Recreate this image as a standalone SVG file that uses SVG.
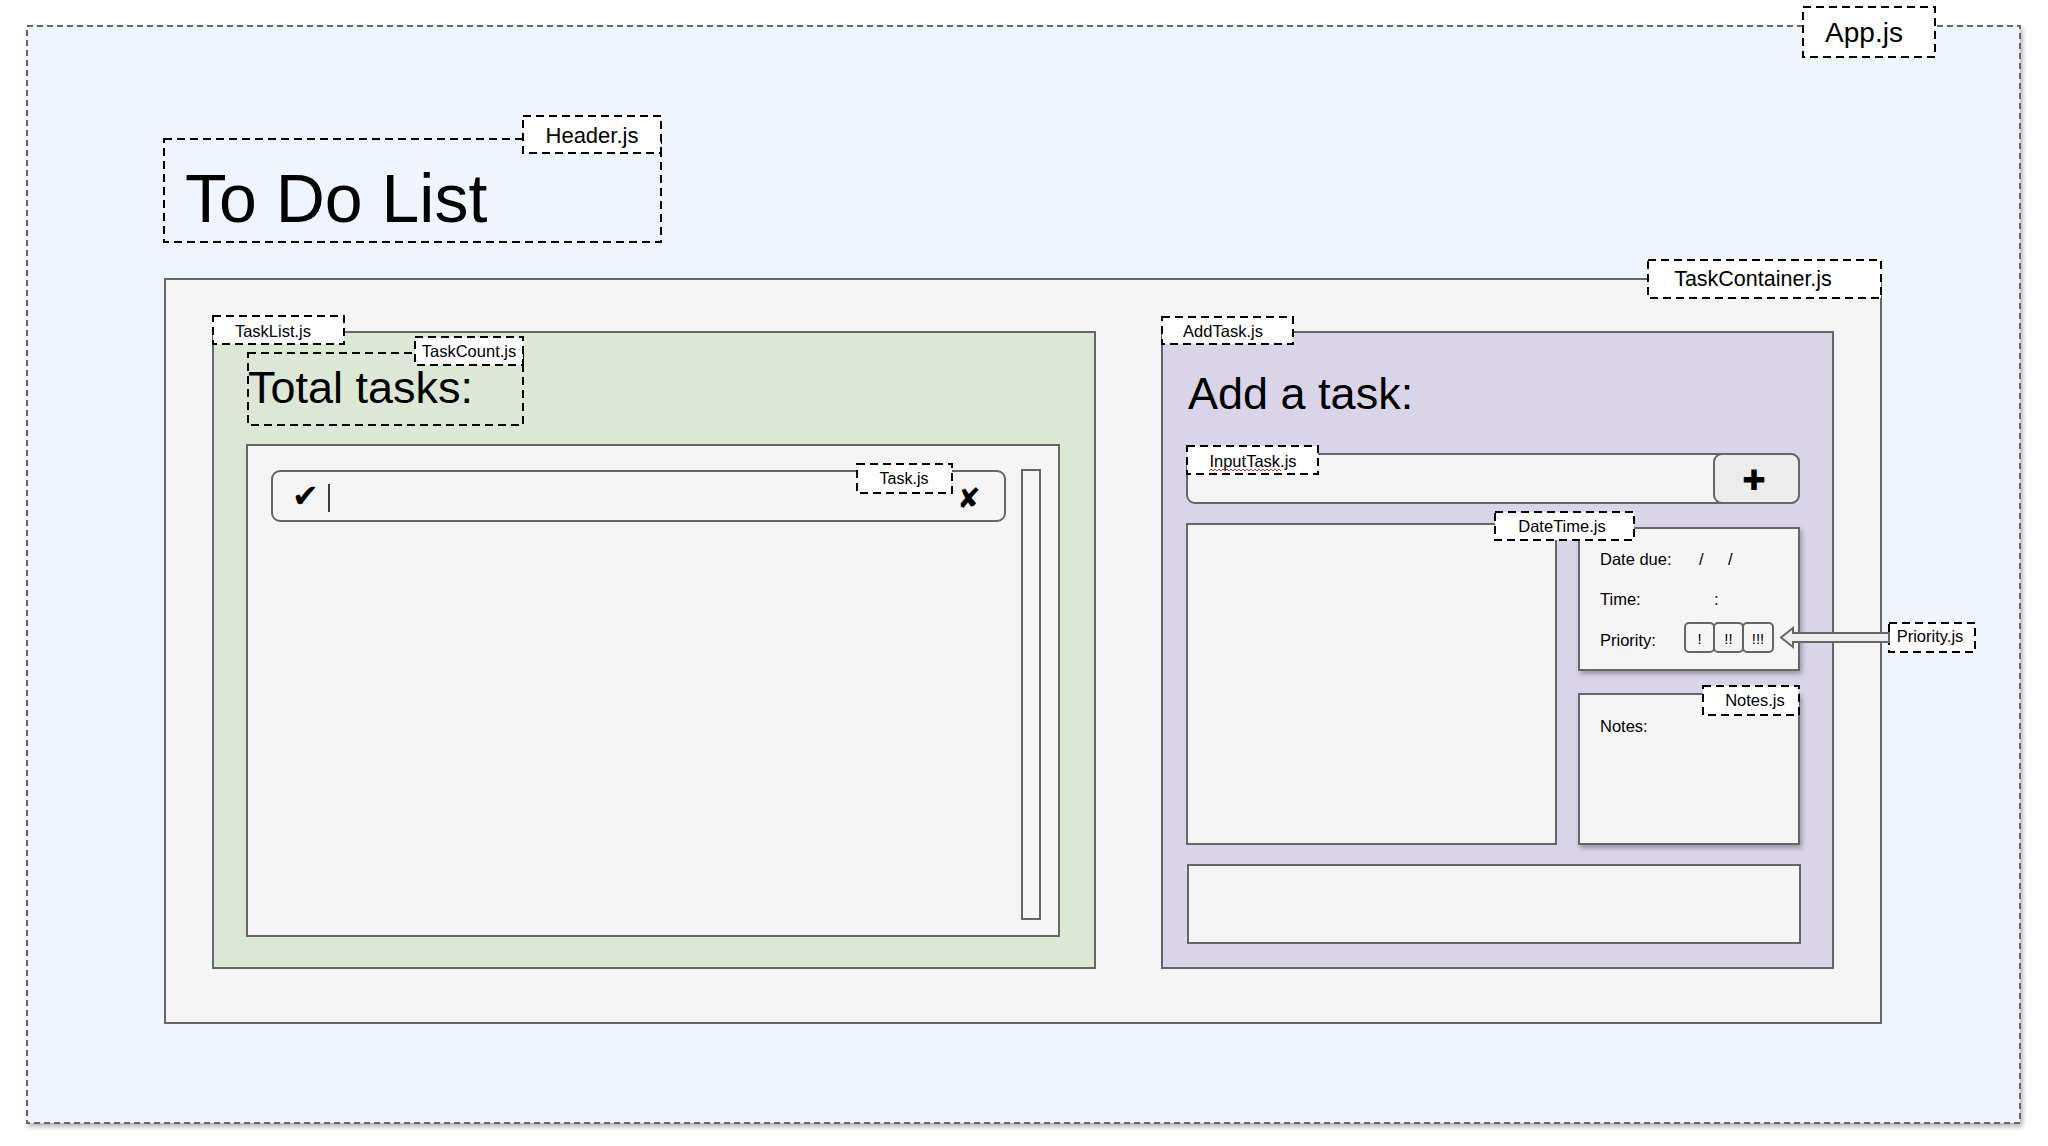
<svg xmlns="http://www.w3.org/2000/svg" width="2048" height="1146" viewBox="0 0 2048 1146">
<defs>
<style>
.lbl{fill:#ffffff;stroke:#000;stroke-width:2;stroke-dasharray:8 5}
.dash{fill:none;stroke:#000;stroke-width:2;stroke-dasharray:8 5}
.box{stroke:#666;stroke-width:2}
.t{font-family:"Liberation Sans",Arial,sans-serif;fill:#000}
.sym{font-family:"DejaVu Sans",sans-serif;fill:#000}
</style>
<filter id="sh" x="-5%" y="-5%" width="115%" height="115%">
<feDropShadow dx="2" dy="3" stdDeviation="2.5" flood-color="#000" flood-opacity="0.3"/>
</filter>
</defs>
<rect width="2048" height="1146" fill="#ffffff"/>

<g id="app">
<rect x="27" y="26" width="1993" height="1097" fill="#eff4fd" stroke="#666" stroke-width="2" stroke-dasharray="6 4" filter="url(#sh)"/>
<rect class="lbl" x="1803" y="7" width="132" height="50"/>
<text class="t" x="1864" y="42" font-size="28" text-anchor="middle">App.js</text>
</g>

<g id="header">
<rect class="dash" x="164" y="139" width="497" height="103"/>
<text class="t" x="185" y="222" font-size="68">To Do List</text>
<rect class="lbl" x="523" y="116" width="138" height="37"/>
<text class="t" x="592" y="143" font-size="22" text-anchor="middle">Header.js</text>
</g>

<g id="taskcontainer">
<rect class="box" x="165" y="279" width="1716" height="744" fill="#f5f5f5"/>
<rect class="lbl" x="1648" y="260" width="233" height="38"/>
<text class="t" x="1753" y="286" font-size="21.5" text-anchor="middle">TaskContainer.js</text>
</g>

<g id="tasklist">
<rect class="box" x="213" y="332" width="882" height="636" fill="#dce8d5"/>
<rect class="box" x="247" y="445" width="812" height="491" fill="#f5f5f5"/>
<rect class="box" x="1022" y="470" width="18" height="449" fill="#f5f5f5"/>
<rect class="lbl" x="213" y="316" width="131" height="28"/>
<text class="t" x="273" y="337" font-size="16.5" text-anchor="middle">TaskList.js</text>
</g>

<g id="taskcount">
<rect class="dash" x="248" y="353" width="275" height="72"/>
<text class="t" x="248" y="403" font-size="45">Total tasks:</text>
<rect class="lbl" x="415" y="337" width="108" height="28"/>
<text class="t" x="469" y="357" font-size="16.5" text-anchor="middle">TaskCount.js</text>
</g>

<g id="task">
<rect class="box" x="272" y="471" width="733" height="50" rx="8" fill="#f5f5f5"/>
<text class="sym" x="292" y="507" font-size="32">✔</text>
<line x1="329" y1="484" x2="329" y2="512" stroke="#000" stroke-width="1.5"/>
<text class="sym" x="957" y="508" font-size="28">✘</text>
<rect class="lbl" x="857" y="464" width="95" height="29"/>
<text class="t" x="904" y="484" font-size="16" text-anchor="middle">Task.js</text>
</g>

<g id="addtask">
<rect class="box" x="1162" y="332" width="671" height="636" fill="#d9d4e7"/>
<text class="t" x="1188" y="409" font-size="45">Add a task:</text>
<rect class="box" x="1187" y="524" width="369" height="320" fill="#f5f5f5"/>
<rect class="box" x="1188" y="865" width="612" height="78" fill="#f5f5f5"/>
<rect class="lbl" x="1162" y="317" width="131" height="27"/>
<text class="t" x="1223" y="337" font-size="16.5" text-anchor="middle">AddTask.js</text>
</g>

<g id="inputtask">
<rect class="box" x="1187" y="454" width="612" height="49" rx="8" fill="#f5f5f5"/>
<rect class="box" x="1714" y="454" width="85" height="49" rx="8" fill="#ececec"/>
<text class="sym" x="1754" y="490" font-size="28" text-anchor="middle">✚</text>
<rect class="lbl" x="1187" y="446" width="131" height="28"/>
<text class="t" x="1253" y="467" font-size="16.5" text-anchor="middle">InputTask.js</text>
<polyline points="1209,471 1211,469 1213,471 1215,469 1217,471 1219,469 1221,471 1223,469 1225,471 1227,469 1229,471 1231,469 1233,471 1235,469 1237,471 1239,469 1241,471 1243,469 1245,471 1247,469 1249,471 1251,469 1253,471 1255,469 1257,471 1259,469 1261,471 1263,469 1265,471 1267,469 1269,471 1271,469 1273,471 1275,469 1277,471 1279,469 1281,471" fill="none" stroke="#e03030" stroke-width="1"/>
</g>

<g id="datetime">
<rect class="box" x="1579" y="528" width="220" height="142" fill="#f5f5f5" filter="url(#sh)"/>
<text class="t" x="1600" y="565" font-size="16.5">Date due:</text>
<text class="t" x="1699" y="565" font-size="16.5">/</text>
<text class="t" x="1728" y="565" font-size="16.5">/</text>
<text class="t" x="1600" y="605" font-size="16.5">Time:</text>
<text class="t" x="1714" y="605" font-size="16.5">:</text>
<text class="t" x="1600" y="646" font-size="16.5">Priority:</text>
<rect class="lbl" x="1495" y="512" width="139" height="28"/>
<text class="t" x="1562" y="532" font-size="16.5" text-anchor="middle">DateTime.js</text>
</g>

<g id="priority">
<rect class="box" x="1685" y="623" width="29" height="29" rx="4" fill="#f5f5f5"/>
<rect class="box" x="1714" y="623" width="29" height="29" rx="4" fill="#f5f5f5"/>
<rect class="box" x="1743" y="623" width="30" height="29" rx="4" fill="#f5f5f5"/>
<text class="t" x="1699.5" y="644" font-size="15" text-anchor="middle">!</text>
<text class="t" x="1728.5" y="644" font-size="15" text-anchor="middle">!!</text>
<text class="t" x="1758" y="644" font-size="15" text-anchor="middle">!!!</text>
<rect class="lbl" x="1889" y="623" width="86" height="29"/>
<text class="t" x="1930" y="642" font-size="16.5" text-anchor="middle">Priority.js</text>
</g>

<g id="notes">
<rect class="box" x="1579" y="694" width="220" height="150" fill="#f5f5f5" filter="url(#sh)"/>
<text class="t" x="1600" y="732" font-size="16.5">Notes:</text>
<rect class="lbl" x="1703" y="686" width="96" height="29"/>
<text class="t" x="1755" y="706" font-size="16.5" text-anchor="middle">Notes.js</text>
</g>

<g id="connectors">
<path d="M1889,633 L1793,633 L1793,628 L1781,637.5 L1793,647 L1793,642 L1889,642 Z" fill="#eeeeee" stroke="#666" stroke-width="2" stroke-linejoin="miter"/>
</g>
</svg>
